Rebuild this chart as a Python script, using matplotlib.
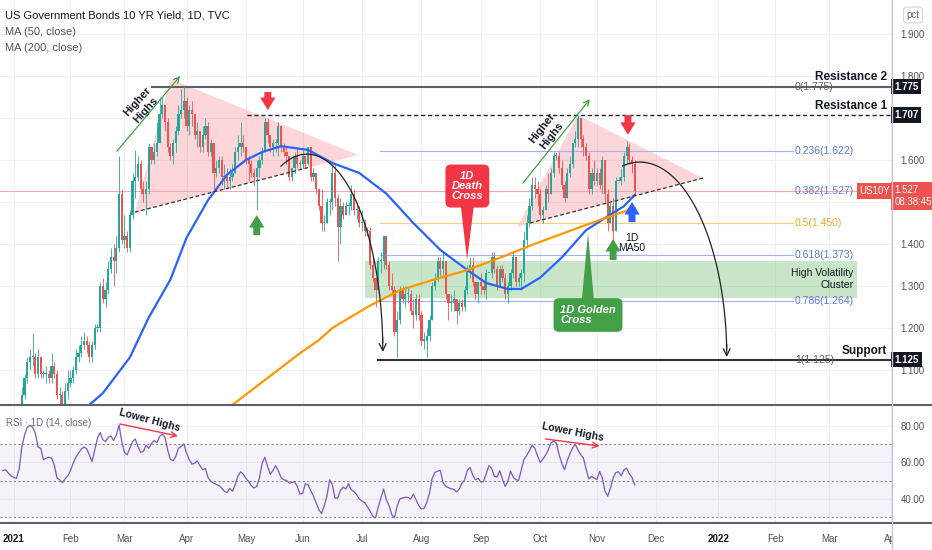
import numpy as np
import pandas as pd
import matplotlib
matplotlib.use("Agg")
import matplotlib.pyplot as plt
from matplotlib.lines import Line2D
from matplotlib.transforms import blended_transform_factory, Bbox, TransformedBbox

plt.rcParams['font.family'] = ['Liberation Sans Narrow', 'Liberation Sans', 'DejaVu Sans']

START = '2020-12-28'
dates = pd.bdate_range(START, '2021-11-19')

# daily candles, one row per week (Mon..Fri)
closes = [
    0.93, 0.94, 0.93, 0.92, 0.92,
    0.92, 0.96, 1.04, 1.08, 1.12,
    1.13, 1.13, 1.09, 1.13, 1.09,
    1.09, 1.09, 1.08, 1.11, 1.09,
    1.04, 1.04, 1.01, 1.05, 1.07,
    1.08, 1.10, 1.13, 1.14, 1.16,
    1.17, 1.16, 1.13, 1.16, 1.20,
    1.20, 1.30, 1.27, 1.29, 1.34,
    1.37, 1.36, 1.39, 1.52, 1.41,
    1.42, 1.39, 1.47, 1.55, 1.56,
    1.59, 1.53, 1.52, 1.53, 1.63,
    1.60, 1.62, 1.64, 1.71, 1.73,
    1.69, 1.63, 1.61, 1.64, 1.67,
    1.71, 1.72, 1.74, 1.68, 1.72,
    1.71, 1.66, 1.67, 1.63, 1.66,
    1.68, 1.62, 1.64, 1.57, 1.58,
    1.60, 1.56, 1.56, 1.55, 1.56,
    1.57, 1.62, 1.63, 1.64, 1.63,
    1.60, 1.59, 1.57, 1.56, 1.58,
    1.60, 1.62, 1.69, 1.66, 1.63,
    1.64, 1.64, 1.68, 1.63, 1.62,
    1.61, 1.56, 1.58, 1.61, 1.59,
    1.59, 1.61, 1.59, 1.63, 1.56,
    1.57, 1.53, 1.49, 1.45, 1.45,
    1.50, 1.50, 1.57, 1.51, 1.44,
    1.49, 1.47, 1.49, 1.49, 1.52,
    1.48, 1.48, 1.45, 1.45, 1.43,
    1.43, 1.35, 1.32, 1.29, 1.36,
    1.36, 1.42, 1.35, 1.30, 1.29,
    1.19, 1.22, 1.29, 1.27, 1.28,
    1.28, 1.24, 1.23, 1.27, 1.23,
    1.17, 1.17, 1.18, 1.22, 1.30,
    1.32, 1.36, 1.34, 1.36, 1.28,
    1.26, 1.26, 1.27, 1.24, 1.26,
    1.25, 1.29, 1.34, 1.35, 1.31,
    1.28, 1.31, 1.30, 1.29, 1.33,
    1.33, 1.37, 1.34, 1.30, 1.34,
    1.32, 1.28, 1.30, 1.33, 1.37,
    1.31, 1.32, 1.33, 1.41, 1.45,
    1.49, 1.54, 1.53, 1.52, 1.47,
    1.48, 1.53, 1.52, 1.57, 1.61,
    1.61, 1.58, 1.54, 1.51, 1.57,
    1.59, 1.64, 1.65, 1.70, 1.65,
    1.63, 1.61, 1.53, 1.57, 1.55,
    1.57, 1.54, 1.60, 1.52, 1.45,
    1.49, 1.43, 1.55, 1.55, 1.56,
    1.61, 1.63, 1.60, 1.59, 1.527,
]
highs = [
    0.95, 0.95, 0.95, 0.94, 0.93,
    0.94, 0.97, 1.06, 1.09, 1.13,
    1.15, 1.187, 1.14, 1.15, 1.13,
    1.10, 1.11, 1.10, 1.14, 1.12,
    1.10, 1.06, 1.05, 1.07, 1.10,
    1.10, 1.11, 1.15, 1.16, 1.18,
    1.19, 1.18, 1.17, 1.17, 1.21,
    1.21, 1.31, 1.32, 1.31, 1.36,
    1.39, 1.40, 1.42, 1.61, 1.53,
    1.47, 1.43, 1.48, 1.57, 1.625,
    1.61, 1.60, 1.55, 1.55, 1.64,
    1.63, 1.64, 1.69, 1.75, 1.75,
    1.73, 1.70, 1.64, 1.65, 1.68,
    1.73, 1.77, 1.776, 1.75, 1.73,
    1.74, 1.71, 1.69, 1.67, 1.68,
    1.70, 1.69, 1.65, 1.64, 1.60,
    1.61, 1.61, 1.59, 1.58, 1.58,
    1.59, 1.63, 1.66, 1.69, 1.66,
    1.63, 1.61, 1.60, 1.58, 1.60,
    1.61, 1.63, 1.70, 1.70, 1.66,
    1.65, 1.65, 1.69, 1.68, 1.64,
    1.63, 1.61, 1.58, 1.62, 1.63,
    1.60, 1.63, 1.61, 1.63, 1.63,
    1.58, 1.57, 1.53, 1.53, 1.47,
    1.51, 1.51, 1.59, 1.59, 1.52,
    1.51, 1.50, 1.50, 1.50, 1.54,
    1.53, 1.50, 1.49, 1.48, 1.46,
    1.44, 1.44, 1.37, 1.31, 1.37,
    1.38, 1.42, 1.42, 1.36, 1.33,
    1.30, 1.24, 1.30, 1.30, 1.30,
    1.30, 1.29, 1.27, 1.28, 1.28,
    1.24, 1.19, 1.20, 1.23, 1.31,
    1.33, 1.37, 1.37, 1.38, 1.36,
    1.28, 1.28, 1.29, 1.27, 1.27,
    1.27, 1.30, 1.35, 1.37, 1.37,
    1.31, 1.31, 1.33, 1.31, 1.34,
    1.33, 1.38, 1.38, 1.35, 1.35,
    1.35, 1.33, 1.31, 1.34, 1.38,
    1.37, 1.33, 1.34, 1.43, 1.47,
    1.51, 1.56, 1.56, 1.55, 1.53,
    1.49, 1.54, 1.57, 1.58, 1.62,
    1.62, 1.62, 1.60, 1.55, 1.58,
    1.61, 1.64, 1.67, 1.707, 1.70,
    1.66, 1.64, 1.62, 1.58, 1.60,
    1.58, 1.58, 1.61, 1.60, 1.53,
    1.50, 1.51, 1.56, 1.56, 1.58,
    1.62, 1.645, 1.64, 1.61, 1.60,
]
lows = [
    0.91, 0.92, 0.92, 0.91, 0.91,
    0.91, 0.91, 0.95, 1.03, 1.07,
    1.10, 1.11, 1.08, 1.08, 1.08,
    1.08, 1.07, 1.07, 1.07, 1.08,
    1.03, 1.02, 1.00, 1.00, 1.03,
    1.06, 1.07, 1.09, 1.12, 1.13,
    1.15, 1.14, 1.12, 1.12, 1.15,
    1.19, 1.19, 1.26, 1.25, 1.28,
    1.33, 1.30, 1.33, 1.38, 1.40,
    1.39, 1.38, 1.38, 1.46, 1.51,
    1.55, 1.52, 1.50, 1.47, 1.52,
    1.59, 1.59, 1.61, 1.64, 1.70,
    1.67, 1.62, 1.60, 1.59, 1.62,
    1.66, 1.70, 1.70, 1.67, 1.66,
    1.68, 1.65, 1.63, 1.62, 1.62,
    1.65, 1.61, 1.61, 1.53, 1.56,
    1.57, 1.54, 1.53, 1.53, 1.53,
    1.55, 1.57, 1.60, 1.61, 1.62,
    1.59, 1.55, 1.56, 1.54, 1.48,
    1.56, 1.59, 1.62, 1.64, 1.62,
    1.61, 1.62, 1.61, 1.62, 1.61,
    1.59, 1.55, 1.55, 1.57, 1.58,
    1.58, 1.58, 1.58, 1.59, 1.55,
    1.55, 1.52, 1.48, 1.43, 1.43,
    1.45, 1.47, 1.48, 1.49, 1.36,
    1.40, 1.46, 1.47, 1.47, 1.48,
    1.47, 1.46, 1.44, 1.43, 1.42,
    1.42, 1.34, 1.31, 1.25, 1.29,
    1.33, 1.34, 1.34, 1.29, 1.28,
    1.18, 1.13, 1.21, 1.26, 1.25,
    1.26, 1.23, 1.20, 1.22, 1.22,
    1.16, 1.15, 1.13, 1.17, 1.22,
    1.29, 1.31, 1.32, 1.32, 1.27,
    1.22, 1.24, 1.24, 1.21, 1.23,
    1.24, 1.24, 1.28, 1.32, 1.30,
    1.27, 1.26, 1.28, 1.28, 1.27,
    1.33, 1.32, 1.33, 1.29, 1.30,
    1.31, 1.27, 1.26, 1.29, 1.32,
    1.30, 1.30, 1.29, 1.31, 1.39,
    1.44, 1.48, 1.51, 1.49, 1.46,
    1.45, 1.48, 1.50, 1.52, 1.56,
    1.60, 1.57, 1.53, 1.50, 1.51,
    1.56, 1.58, 1.63, 1.63, 1.63,
    1.61, 1.60, 1.52, 1.52, 1.54,
    1.54, 1.53, 1.52, 1.50, 1.43,
    1.45, 1.41, 1.43, 1.55, 1.54,
    1.55, 1.59, 1.59, 1.57, 1.52,
]
first_open = 0.94

rsi_values = [
    55.6, 56.0, 54.2, 52.7, 51.8, 51.3, 56.4, 68.7, 75.0, 79.3,
    80.4, 79.3, 76.0, 68.4, 67.8, 61.5, 62.4, 62.9, 62.4, 58.7,
    51.5, 50.5, 49.0, 51.0, 52.7, 55.5, 59.6, 62.9, 65.1, 67.3,
    68.5, 67.5, 64.2, 60.5, 66.9, 73.3, 76.4, 72.4, 71.5, 73.8,
    74.5, 72.0, 75.1, 80.5, 71.5, 65.5, 64.2, 67.8, 71.5, 72.9,
    68.7, 65.6, 66.0, 69.5, 67.8, 70.4, 72.0, 70.9, 74.2, 75.6,
    73.8, 66.9, 61.8, 60.9, 63.3, 67.8, 68.7, 70.2, 65.1, 61.5,
    59.1, 59.6, 60.9, 58.2, 56.0, 56.7, 51.5, 49.8, 48.7, 48.0,
    47.3, 46.0, 44.2, 43.6, 45.8, 44.2, 47.8, 52.4, 54.9, 53.6,
    51.3, 49.5, 47.3, 46.0, 46.9, 51.5, 59.6, 62.9, 57.8, 53.6,
    55.6, 58.2, 55.5, 51.8, 50.5, 50.2, 48.7, 49.1, 49.5, 46.9,
    42.6, 43.1, 48.4, 47.8, 44.7, 41.5, 37.8, 34.2, 32.0, 36.4,
    41.5, 50.5, 47.8, 40.5, 40.5, 44.7, 46.5, 45.5, 48.4, 45.1,
    44.0, 42.4, 40.0, 38.9, 38.0, 35.6, 33.3, 30.5, 29.6, 35.6,
    40.5, 45.5, 39.6, 36.4, 31.5, 29.6, 36.0, 40.0, 40.5, 40.9,
    40.9, 40.0, 42.7, 39.6, 36.4, 34.5, 34.9, 38.2, 43.3, 51.5,
    54.5, 55.3, 55.6, 48.9, 46.9, 46.2, 45.6, 45.3, 43.8, 45.5,
    48.7, 50.5, 55.6, 57.3, 53.1, 50.5, 51.3, 49.3, 49.5, 53.8,
    58.2, 56.9, 52.4, 52.0, 55.5, 51.0, 46.9, 49.5, 55.3, 52.0,
    50.5, 50.2, 56.0, 61.8, 63.8, 66.5, 69.5, 67.8, 63.6, 60.0,
    61.8, 64.0, 66.9, 70.9, 71.8, 70.5, 64.2, 59.6, 56.0, 61.1,
    64.7, 68.0, 70.0, 66.9, 64.2, 62.4, 56.4, 51.0, 52.4, 51.5,
    50.7, 55.1, 51.5, 44.2, 41.5, 46.0, 51.5, 54.5, 54.9, 52.7,
    56.0, 56.9, 53.8, 51.8, 47.8,
]

ma50_dates = ['2021-02-10', '2021-02-17', '2021-03-03', '2021-03-12', '2021-03-24',
              '2021-04-01', '2021-04-13', '2021-04-22', '2021-05-03', '2021-05-11',
              '2021-05-20', '2021-06-03', '2021-06-16', '2021-06-30', '2021-07-14',
              '2021-07-28', '2021-08-11', '2021-08-25', '2021-09-03', '2021-09-15',
              '2021-09-22', '2021-10-01', '2021-10-13', '2021-10-26', '2021-11-05',
              '2021-11-15', '2021-11-19']
ma50_vals = [1.017, 1.045, 1.13, 1.225, 1.315, 1.415, 1.505, 1.565, 1.60, 1.619,
             1.633, 1.624, 1.593, 1.569, 1.52, 1.45, 1.386, 1.338, 1.307, 1.293,
             1.293, 1.32, 1.368, 1.433, 1.466, 1.49, 1.517]

ma200_dates = ['2021-04-26', '2021-05-31', '2021-06-09', '2021-06-16', '2021-07-05',
               '2021-07-21', '2021-08-06', '2021-08-25', '2021-09-10', '2021-09-28',
               '2021-10-15', '2021-11-02', '2021-11-19']
ma200_vals = [1.017, 1.14, 1.171, 1.20, 1.25, 1.29, 1.314, 1.338, 1.367, 1.398,
              1.429, 1.457, 1.486]

fib_ratios = ['0', '0.236', '0.382', '0.5', '0.618', '0.786', '1']
fib_prices = [1.775, 1.622, 1.527, 1.450, 1.373, 1.264, 1.125]

month_labels = ['2021', 'Feb', 'Mar', 'Apr', 'May', 'Jun', 'Jul', 'Aug', 'Sep',
                'Oct', 'Nov', 'Dec', '2022', 'Feb', 'Mar', 'Apr']
month_starts = pd.date_range('2021-01-01', '2022-04-01', freq='MS')

resistance2 = 1.775
resistance1 = 1.707
support = 1.125
cluster_low, cluster_high = 1.271, 1.360
last_price = 1.527


def bx(d):
    return int(np.busday_count(START, pd.Timestamp(d).strftime('%Y-%m-%d')))


UP = '#26a69a'
DOWN = '#ef5350'
RED = '#f23645'
GREEN = '#43a047'
BLUE = '#2962ff'
ORANGE = '#ff9800'
FIBBLUE = '#5b78e6'
GRID = '#eff1f5'
TXT = '#131722'
AXTXT = '#50535e'

fig = plt.figure(figsize=(9.32, 5.5), dpi=100)
ax = fig.add_axes([0, 145 / 550, 892 / 932, 405 / 550])
rx = fig.add_axes([0, 28 / 550, 892 / 932, 115 / 550], sharex=ax)

x = np.arange(len(dates))
opens = [first_open] + closes[:-1]
cols = [UP if c >= o else DOWN for o, c in zip(opens, closes)]
bottoms = [min(o, c) for o, c in zip(opens, closes)]
heights = [max(abs(c - o), 0.003) for o, c in zip(opens, closes)]

month_x = [bx(d) for d in month_starts]

# ---- main pane ----
ax.set_xlim(-1.1, 329.3)
ax.set_ylim(1.0167, 1.981)
for s in ax.spines.values():
    s.set_visible(False)
ax.set_xticks(month_x)
ax.set_yticks([1.1, 1.2, 1.3, 1.4, 1.5, 1.6, 1.7, 1.8, 1.9])
ax.set_yticklabels(['1.100', '1.200', '1.300', '1.400', '', '1.600', '', '1.800', '1.900'])
ax.yaxis.tick_right()
ax.tick_params(axis='y', length=0, pad=6, labelsize=7, labelcolor=AXTXT)
ax.tick_params(axis='x', length=0, labelbottom=False)
ax.grid(True, color=GRID, lw=0.8)
ax.set_axisbelow(True)

# patterns behind the candles
ax.fill([48.9, 61.9, 131.5], [1.476, 1.793, 1.612], color=RED, alpha=0.2, lw=0, zorder=1)
ax.fill([190.4, 213.0, 259.3], [1.440, 1.707, 1.557], color=RED, alpha=0.2, lw=0, zorder=1)
ax.add_patch(plt.Rectangle((134, cluster_low), 182.3, cluster_high - cluster_low,
                           color='#4caf50', alpha=0.3, lw=0, zorder=1))

# fib + levels
for r, p in zip(fib_ratios, fib_prices):
    if r == '0.5':
        lc, tc = '#ffcc80', '#f5a623'
    elif r in ('0', '1'):
        lc, tc = None, '#5d606b'
    else:
        lc, tc = '#a4b1f0', FIBBLUE
    if lc:
        ax.plot([139.6, 292.6], [p, p], color=lc, lw=0.8, zorder=1.5)
    ax.text(293.3, p, f'{r}({p:.3f})', color=tc, fontsize=7.5, va='center', ha='left', zorder=4)

ax.plot([-1.1, 319], [last_price, last_price], color='#f7a5ab', lw=0.7, zorder=1.5)
ax.plot([55.2, 329.3], [resistance2, resistance2], color='#5d606b', lw=1.5, zorder=2)
ax.plot([90.4, 329.3], [resistance1, resistance1], color='#222222', lw=1.0, ls=(0, (3, 2)), zorder=2)
ax.plot([138.9, 329.3], [support, support], color='#333333', lw=1.5, zorder=2)

# triangle supports
ax.plot([48.9, 113.7], [1.476, 1.583], color='#333333', lw=0.9, ls=(0, (3, 2)), zorder=4)
ax.plot([195.2, 259.3], [1.450, 1.557], color='#333333', lw=0.9, ls=(0, (3, 2)), zorder=4)

# candles
ax.vlines(x, lows, highs, colors=cols, lw=0.6, zorder=3)
ax.bar(x, heights, bottom=bottoms, width=0.8, color=cols, lw=0, zorder=3)

# moving averages
ax.plot([bx(d) for d in ma50_dates], ma50_vals, color=BLUE, lw=1.6, zorder=3.5)
ax.plot([bx(d) for d in ma200_dates], ma200_vals, color=ORANGE, lw=1.6, zorder=3.5)

# texts
ax.text(327.4, 1.798, 'Resistance 2', ha='right', va='center', fontsize=8.5,
        fontweight='bold', color=TXT, zorder=5)
ax.text(327.4, 1.729, 'Resistance 1', ha='right', va='center', fontsize=8.5,
        fontweight='bold', color=TXT, zorder=5)
ax.text(327.4, 1.145, 'Support', ha='right', va='center', fontsize=8.5,
        fontweight='bold', color=TXT, zorder=5)
ax.text(315, 1.316, 'High Volatility\nCluster', ha='right', va='center', fontsize=7.5,
        color=TXT, multialignment='right', zorder=5)

ax.text(51.5, 1.729, 'Higher\nHighs', rotation=48, ha='center', va='center', fontsize=8,
        fontweight='bold', color=TXT, rotation_mode='anchor', zorder=5)
ax.text(201.5, 1.667, 'Higher\nHighs', rotation=52, ha='center', va='center', fontsize=8,
        fontweight='bold', color=TXT, rotation_mode='anchor', zorder=5)
ax.annotate('', xy=(65.6, 1.80), xytext=(42.2, 1.621),
            arrowprops=dict(arrowstyle='->', color=GREEN, lw=0.9, shrinkA=0, shrinkB=0), zorder=5)
ax.annotate('', xy=(217.4, 1.745), xytext=(192.6, 1.545),
            arrowprops=dict(arrowstyle='->', color=GREEN, lw=0.9, shrinkA=0, shrinkB=0), zorder=5)


def block_arrow(xx, tail, tip, color):
    ax.annotate('', xy=(xx, tip), xytext=(xx, tail),
                arrowprops=dict(arrowstyle='simple,head_length=0.9,head_width=1.1,tail_width=0.5',
                                fc=color, ec='none', mutation_scale=10, shrinkA=0, shrinkB=0),
                zorder=6)


block_arrow(98.1, 1.762, 1.719, RED)
block_arrow(231.5, 1.707, 1.660, RED)
block_arrow(94.0, 1.421, 1.469, GREEN)
block_arrow(226.0, 1.362, 1.412, GREEN)
block_arrow(233.0, 1.452, 1.500, BLUE)
ax.text(233.0, 1.402, '1D\nMA50', ha='center', va='center', fontsize=7.5, color=TXT,
        linespacing=1.0, zorder=6)


def quarter_arc(xp, yp, xe, ye, t0):
    t = np.linspace(t0, np.pi / 2, 80)
    xs = xp + (xe - xp) * np.sin(t)
    ys = ye + (yp - ye) * np.cos(t)
    ax.plot(xs[:-2], ys[:-2], color='#222222', lw=0.9, zorder=5)
    ax.annotate('', xy=(xs[-1], ys[-1]), xytext=(xs[-4], ys[-4]),
                arrowprops=dict(arrowstyle='->,head_length=0.5,head_width=0.25', color='#222222',
                                lw=0.9, shrinkA=0, shrinkB=0), zorder=5)


quarter_arc(112.6, 1.614, 140.7, 1.143, -0.35)
quarter_arc(235.9, 1.595, 268.1, 1.131, -0.2)

# callouts
ax.fill([169.6, 174.4, 171.9], [1.49, 1.49, 1.362], color=RED, lw=0, zorder=6)
ax.text(172.0, 1.538, '1D\nDeath\nCross', ha='center', va='center', fontsize=8,
        style='italic', fontweight='bold', color='white', linespacing=1.05, zorder=7,
        bbox=dict(boxstyle='round,pad=0.55,rounding_size=0.5', fc=RED, ec='none'))
ax.fill([214.4, 218.9, 216.7], [1.265, 1.265, 1.426], color=GREEN, lw=0, zorder=6)
ax.text(216.7, 1.231, '1D Golden\nCross', ha='center', va='center', fontsize=8,
        style='italic', fontweight='bold', color='white', multialignment='left',
        linespacing=1.05, zorder=7,
        bbox=dict(boxstyle='round,pad=0.6,rounding_size=0.5', fc=GREEN, ec='none'))

# price scale boxes
tr = blended_transform_factory(ax.transAxes, ax.transData)
for p, lab in [(resistance2, '1.775'), (resistance1, '1.707'), (support, '1.125')]:
    ax.text(1.0025, p, lab, transform=tr, ha='left', va='center', fontsize=7,
            fontweight='bold', color='white', clip_on=False, zorder=8,
            bbox=dict(boxstyle='square,pad=0.3', fc='#131722', ec='none'))
ax.text(1.0025, last_price - 0.012, '1.527\n08:38:45', transform=tr, ha='left', va='center',
        fontsize=7, color='white', clip_on=False, zorder=8, linespacing=1.25,
        bbox=dict(boxstyle='square,pad=0.3', fc='#ef5350', ec='none'))
ax.text(0.998, last_price, 'US10Y', transform=tr, ha='right', va='center', fontsize=7,
        color='white', clip_on=False, zorder=8,
        bbox=dict(boxstyle='square,pad=0.3', fc='#ef5350', ec='none'))

# ---- RSI pane ----
rx.set_ylim(27.4, 90.4)
for s in rx.spines.values():
    s.set_visible(False)
rx.set_yticks([40, 60, 80])
rx.set_yticklabels(['40.00', '60.00', '80.00'])
rx.yaxis.tick_right()
rx.tick_params(axis='y', length=0, pad=6, labelsize=7, labelcolor=AXTXT)
rx.set_xticks(month_x)
rx.set_xticklabels(month_labels)
rx.tick_params(axis='x', length=0, pad=9, labelsize=7, labelcolor=AXTXT)
for lbl in rx.get_xticklabels():
    if lbl.get_text() in ('2021', '2022'):
        lbl.set_fontweight('bold')
        lbl.set_color(TXT)
    lbl.set_clip_box(TransformedBbox(Bbox([[0, 0], [892 / 932, 1]]), fig.transFigure))
    lbl.set_clip_on(True)
rx.grid(True, color=GRID, lw=0.8)
rx.set_axisbelow(True)
rx.axhspan(30, 70, color='#7e57c2', alpha=0.07, lw=0)
for lv in (30, 50, 70):
    rx.axhline(lv, color='#8a8d96', lw=0.8, ls=(0, (2, 2)))
rx.plot(x, rsi_values, color='#7e57c2', lw=0.9, zorder=3)

rx.text(54.4, 83.4, 'Lower Highs', rotation=-15, ha='center', va='center', fontsize=7.5,
        fontweight='bold', color=TXT, rotation_mode='anchor', zorder=5)
rx.annotate('', xy=(64.8, 74.5), xytext=(43.3, 81.1),
            arrowprops=dict(arrowstyle='->', color=RED, lw=1.0, shrinkA=0, shrinkB=0))
rx.text(211.0, 76.6, 'Lower Highs', rotation=-11, ha='center', va='center', fontsize=7.5,
        fontweight='bold', color=TXT, rotation_mode='anchor', zorder=5)
rx.annotate('', xy=(221.0, 69.0), xytext=(201.0, 72.9),
            arrowprops=dict(arrowstyle='->', color=RED, lw=1.0, shrinkA=0, shrinkB=0))

# ---- frame + header ----
fig.add_artist(Line2D([0, 1], [145 / 550, 145 / 550], color='#5d606b', lw=1.5))
fig.add_artist(Line2D([0, 1], [27 / 550, 27 / 550], color='#5d606b', lw=1.5))
fig.add_artist(Line2D([892 / 932, 892 / 932], [0, 1], color='#c7c9cf', lw=1.0))

fig.text(5 / 932, 1 - 16 / 550, 'US Government Bonds 10 YR Yield, 1D, TVC', fontsize=8,
         color=TXT, va='center', ha='left')
fig.text(5 / 932, 1 - 32 / 550, 'MA (50, close)', fontsize=8, color='#555555', va='center')
fig.text(5 / 932, 1 - 48 / 550, 'MA (200, close)', fontsize=8, color='#555555', va='center')
fig.text(6 / 932, 1 - 423 / 550, 'RSI · 1D (14, close)', fontsize=7, color='#6a6d78', va='center')
fig.text(913 / 932, 1 - 15 / 550, 'pct', fontsize=7, color='#6a6d78', va='center', ha='center',
         bbox=dict(boxstyle='round,pad=0.3', fc='white', ec='#d1d4dc', lw=0.8))

fig.savefig('out.png', dpi=100)
